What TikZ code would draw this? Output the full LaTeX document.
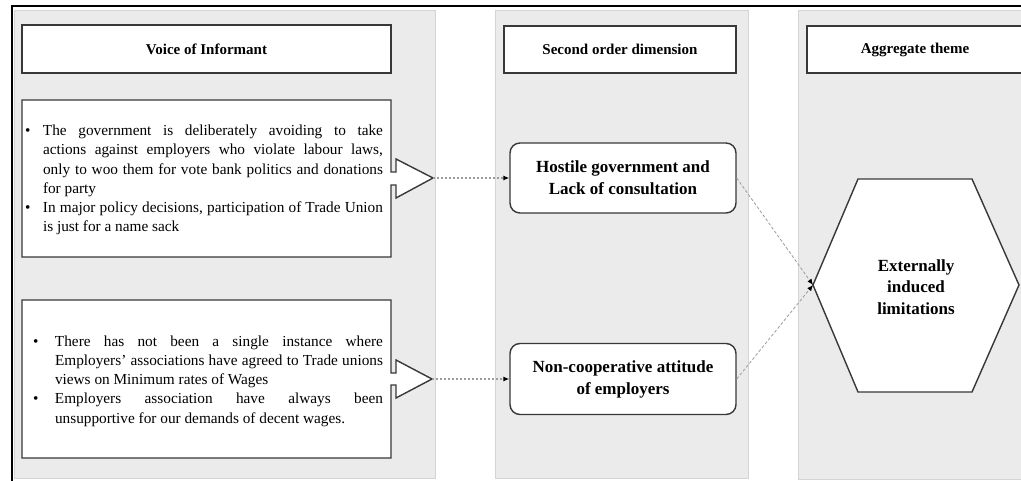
\documentclass[tikz,border=0pt]{standalone}
\usepackage{fontspec}
\setmainfont{Liberation Serif}
\usetikzlibrary{arrows.meta}
\definecolor{panelfill}{HTML}{EBEBEB}
\definecolor{panelline}{HTML}{D4D4D4}
\definecolor{boxline}{HTML}{383838}
\definecolor{connline}{HTML}{9C9C9C}
\newcommand{\bulletpar}[2]{\noindent\hangindent=#1\hangafter=1\makebox[#1][l]{\textbullet}#2\par}
\newenvironment{bulletblock}[1]{\begin{minipage}{#1}\tolerance=10000\hyphenpenalty=10000\emergencystretch=20pt\parindent=0pt}{\end{minipage}}
\begin{document}
\begin{tikzpicture}[x=1pt,y=-1pt,
  panel/.style={fill=panelfill,draw=panelline,line width=0.8pt},
  hdr/.style={draw=boxline,fill=white,line width=1.4pt,font=\fontsize{15}{18}\selectfont\bfseries},
  boxst/.style={draw=boxline,fill=white,line width=1.4pt},
  bullettext/.style={inner sep=0pt,font=\fontsize{15.3}{19.2}\selectfont},
  dimbox/.style={draw=boxline,fill=white,line width=1.4pt,rounded corners=10pt,align=center,
    font=\fontsize{17}{22}\selectfont\bfseries},
  themetext/.style={align=center,font=\fontsize{17}{21.5}\selectfont\bfseries},
  dotconn/.style={draw=connline,line width=1.5pt,dash pattern=on 1.8pt off 2.2pt,
    -{Latex[length=6pt,width=5pt,black]}},
  dashconn/.style={draw=connline,line width=0.8pt,dash pattern=on 3pt off 2pt,
    -{Latex[length=6pt,width=5pt,black]}}
]
\useasboundingbox (0,0) rectangle (1021,481);
\clip (0,0) rectangle (1021,481);
\fill[white] (0,0) rectangle (1021,481);
% column panels
\draw[panel] (14,10) rectangle (435,478);
\draw[panel] (495,10) rectangle (748,478);
\draw[panel] (798,10) rectangle (1040,479);
% outer frame (top and left)
\draw[black,line width=2pt] (12,482) -- (12,6) -- (1030,6);
% headers
\node[hdr,minimum width=369,minimum height=48] (h1) at (206.5,49) {Voice of Informant};
\node[hdr,minimum width=232,minimum height=47] (h2) at (620,49.5) {Second order dimension};
\node[hdr,minimum width=216,minimum height=47] (h3) at (915,49.5) {Aggregate theme};
% informant box 1 with arrow callout
\draw[boxst] (22,100) -- (391,100) -- (391,172) -- (396,172) -- (396,159) -- (433,178)
  -- (396,198) -- (396,185) -- (391,185) -- (391,257) -- (22,257) -- cycle;
\coordinate (t1) at (433,178);
\node[bullettext] (v1) at (204,180) {\begin{bulletblock}{358pt}%
\bulletpar{18pt}{The government is deliberately avoiding to take\linebreak actions against employers who violate labour laws,\linebreak only to woo them for vote bank politics and donations\linebreak for party}%
\bulletpar{18pt}{In major policy decisions, participation of Trade Union\linebreak is just for a name sack}%
\end{bulletblock}};
% informant box 2 with arrow callout
\draw[boxst] (22,300) -- (391,300) -- (391,373) -- (396,373) -- (396,360) -- (432,379)
  -- (396,398) -- (396,385) -- (391,385) -- (391,458) -- (22,458) -- cycle;
\coordinate (t2) at (432,379);
\node[bullettext] (v2) at (208,381) {\begin{bulletblock}{350pt}%
\bulletpar{22pt}{There has not been a single instance where\linebreak Employers' associations have agreed to Trade unions\linebreak views on Minimum rates of Wages}%
\bulletpar{22pt}{Employers association have always been\linebreak unsupportive for our demands of decent wages.}%
\end{bulletblock}};
% second order dimensions
\node[dimbox,minimum width=226,minimum height=70] (d1) at (623,178) {Hostile government and\\Lack of consultation};
\node[dimbox,minimum width=226,minimum height=71] (d2) at (623,379) {Non-cooperative attitude\\of employers};
% aggregate theme hexagon
\draw[boxst] (858,179) -- (972,179) -- (1019,285) -- (972,392) -- (858,392) -- (813,285) -- cycle;
\coordinate (hl) at (813,285);
\node[themetext] (th) at (916,287) {Externally\\induced\\limitations};
% connectors
\draw[dotconn] (t1) -- (d1.west);
\draw[dotconn] (t2) -- (d2.west);
\draw[dashconn] (d1.east) -- (hl);
\draw[dashconn] (d2.east) -- (hl);
\end{tikzpicture}
\end{document}
